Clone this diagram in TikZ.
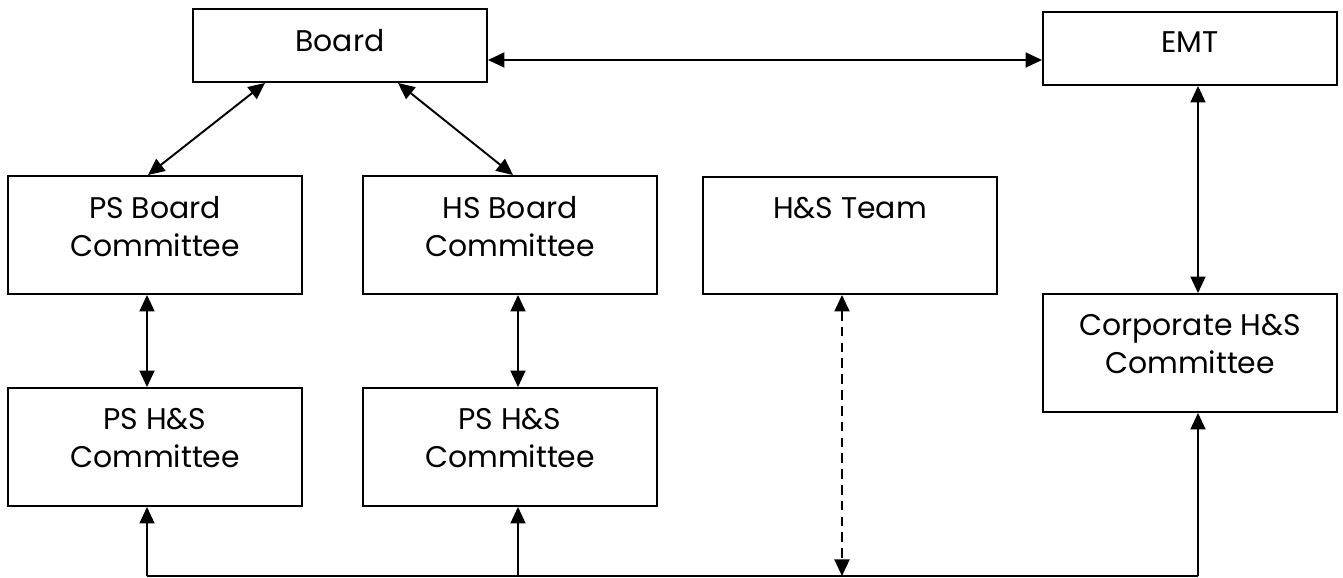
\documentclass[tikz,border=0pt]{standalone}
\usepackage{fontspec}
\setmainfont{Poppins}
\usetikzlibrary{arrows.meta,positioning,calc}
\definecolor{ink}{HTML}{000000}
\newcommand{\bxt}[2]{\parbox[c][#1][t]{5.88cm}{\centering\vspace*{0.40cm}#2}}

\begin{document}
\begin{tikzpicture}[
  x=1cm, y=1cm,
  box/.style={draw=ink, line width=1.1pt, inner sep=0pt, text=ink,
    font=\fontsize{17}{21.6}\selectfont},
  link/.style={{Triangle[length=3.3mm,width=3mm]}-{Triangle[length=3.3mm,width=3mm]},
    line width=1.1pt, draw=ink},
  feed/.style={-{Triangle[length=3.3mm,width=3mm]}, line width=1.1pt, draw=ink},
  loose/.style={link, dashed, dash pattern=on 5.5pt off 3.5pt}
]
\useasboundingbox (0,0) rectangle (26.86,-11.56);

%% ---------- top row ----------
\node[box] (board) at (6.80,-0.91) {\bxt{1.46cm}{Board}};
\node[box] (emt) at (23.80,-0.97) {\bxt{1.46cm}{EMT}};

%% ---------- committees ----------
\node[box] (psb) at (3.10,-4.70) {\bxt{2.36cm}{PS Board\\Committee}};
\node[box] (hsb) at (10.20,-4.70) {\bxt{2.36cm}{HS Board\\Committee}};
\node[box] (team) at (17.00,-4.71) {\bxt{2.34cm}{H\&S Team}};
\node[box] (corp) at (23.80,-7.06) {\bxt{2.36cm}{Corporate H\&S\\Committee}};
\node[box] (psc) at (3.10,-8.94) {\bxt{2.36cm}{PS H\&S\\Committee}};
\node[box] (hsc) at (10.20,-8.94) {\bxt{2.36cm}{PS H\&S\\Committee}};

%% ---------- bus ----------
\coordinate (busL) at (2.94,-11.52);
\coordinate (busM) at (10.36,-11.52);
\coordinate (busT) at (16.84,-11.52);
\coordinate (busR) at (23.96,-11.52);

%% ---------- links ----------
\draw[link] (board.east |- 0,-1.20) -- (emt.west |- 0,-1.20);
\draw[link] (board.south -| 5.30,0) -- (psb.north -| 2.96,0);
\draw[link] (board.south -| 7.96,0) -- (hsb.north -| 10.26,0);
\draw[link] (busL |- psb.south) -- (busL |- psc.north);
\draw[link] (busM |- hsb.south) -- (busM |- hsc.north);
\draw[link] (busR |- emt.south) -- (busR |- corp.north);

\draw[line width=1.1pt, draw=ink] (busL) -- (busR);
\draw[feed] (busL) -- (busL |- psc.south);
\draw[feed] (busM) -- (busM |- hsc.south);
\draw[feed] (busR) -- (busR |- corp.south);
\draw[loose] (busT |- team.south) -- (busT);

\end{tikzpicture}
\end{document}
